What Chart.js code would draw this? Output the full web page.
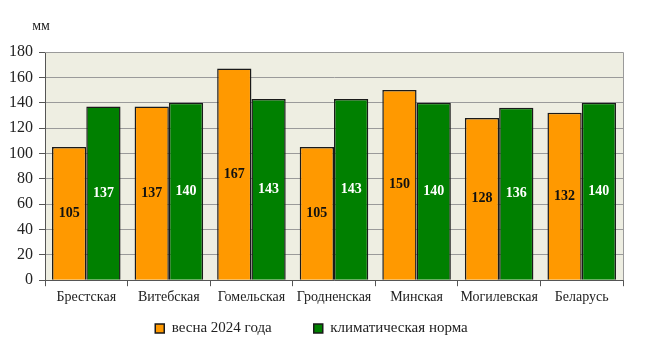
<!DOCTYPE html>
<html>
<head>
<meta charset="utf-8">
<script src="https://cdn.jsdelivr.net/npm/chart.js@4.4.1/dist/chart.umd.min.js"></script>
<style>
  html, body { margin: 0; padding: 0; background: #ffffff; }
  #wrap { width: 649px; height: 348px; }
</style>
</head>
<body>
<div id="wrap"><canvas id="precipChart"></canvas></div>
<script>
// Chart data
const regions = ['Брестская', 'Витебская', 'Гомельская', 'Гродненская', 'Минская', 'Могилевская', 'Беларусь'];
const spring2024 = [105, 137, 167, 105, 150, 128, 132];
const climateNorm = [137, 140, 143, 143, 140, 136, 140];
const yTicks = [0, 20, 40, 60, 80, 100, 120, 140, 160, 180];

const serif = '"Liberation Serif", "DejaVu Serif", serif';

// plot background, frame and "мм" unit label
const framePlugin = {
    id: 'frame',
    beforeDraw(chart) {
        const { ctx, chartArea: a } = chart;
        ctx.save();
        ctx.fillStyle = '#eeeee2';
        ctx.fillRect(a.left, a.top, a.right - a.left, a.bottom - a.top);
        ctx.restore();
    },
    afterDatasetsDraw(chart) {
        const { ctx, chartArea: a } = chart;
        ctx.save();
        ctx.strokeStyle = '#9a9a9a';
        ctx.lineWidth = 1;
        ctx.beginPath();
        ctx.moveTo(a.left, a.top + 0.5);
        ctx.lineTo(a.right + 0.5, a.top + 0.5);
        ctx.lineTo(a.right + 0.5, a.bottom);
        ctx.stroke();
        ctx.fillStyle = '#222';
        ctx.font = '14px ' + serif;
        ctx.textAlign = 'center';
        ctx.textBaseline = 'middle';
        ctx.fillText('мм', a.left - 4, a.top - 26);
        ctx.restore();
    }
};

// value labels in the middle of each bar
const valueLabels = {
    id: 'valueLabels',
    afterDatasetsDraw(chart) {
        const ctx = chart.ctx;
        ctx.save();
        ctx.font = 'bold 14px ' + serif;
        ctx.textAlign = 'center';
        ctx.textBaseline = 'middle';
        chart.data.datasets.forEach((ds, i) => {
            const meta = chart.getDatasetMeta(i);
            ctx.fillStyle = i === 0 ? '#111111' : '#ffffff';
            meta.data.forEach((bar, j) => {
                const mid = (bar.y + bar.base) / 2;
                ctx.fillText(ds.data[j], bar.x, mid);
            });
        });
        ctx.restore();
    }
};

new Chart(document.getElementById('precipChart'), {
    type: 'bar',
    data: {
        labels: regions,
        datasets: [
            {
                label: 'весна 2024 года',
                data: spring2024,
                backgroundColor: '#ff9900',
                borderColor: '#1a1a1a',
                borderWidth: 1.5,
                borderSkipped: 'bottom'
            },
            {
                label: 'климатическая норма',
                data: climateNorm,
                backgroundColor: '#008000',
                borderColor: '#1a1a1a',
                borderWidth: 1.5,
                borderSkipped: 'bottom'
            }
        ]
    },
    options: {
        responsive: true,
        maintainAspectRatio: false,
        animation: false,
        layout: { padding: { left: 0, right: 26, top: 52, bottom: 2 } },
        datasets: {
            bar: { categoryPercentage: 0.83, barPercentage: 1.0 }
        },
        plugins: {
            legend: {
                position: 'bottom',
                labels: {
                    color: '#222',
                    font: { family: serif, size: 15 },
                    boxWidth: 9,
                    boxHeight: 9,
                    padding: 12,
                    // wider gap between the two legend entries
                    generateLabels(chart) {
                        const items = Chart.defaults.plugins.legend.labels.generateLabels(chart);
                        items[0].text = items[0].text + '\u2003\u2003';
                        return items;
                    }
                }
            },
            tooltip: { enabled: false }
        },
        scales: {
            x: {
                offset: true,
                grid: {
                    display: true,
                    offset: true,
                    drawOnChartArea: false,
                    tickLength: 6,
                    color: '#555'
                },
                border: { color: '#555' },
                ticks: {
                    color: '#222',
                    font: { family: serif, size: 14 },
                    maxRotation: 0,
                    autoSkip: false,
                    padding: 3
                }
            },
            y: {
                min: 0,
                max: 180,
                afterBuildTicks(axis) {
                    axis.ticks = yTicks.map(v => ({ value: v }));
                },
                afterFit(axis) {
                    axis.width = 45;
                },
                grid: {
                    color: '#9a9a9a',
                    tickLength: 6,
                    tickColor: '#555'
                },
                border: { color: '#555' },
                ticks: {
                    color: '#222',
                    font: { family: serif, size: 16 },
                    padding: 6
                }
            }
        }
    },
    plugins: [framePlugin, valueLabels]
});
</script>
</body>
</html>
